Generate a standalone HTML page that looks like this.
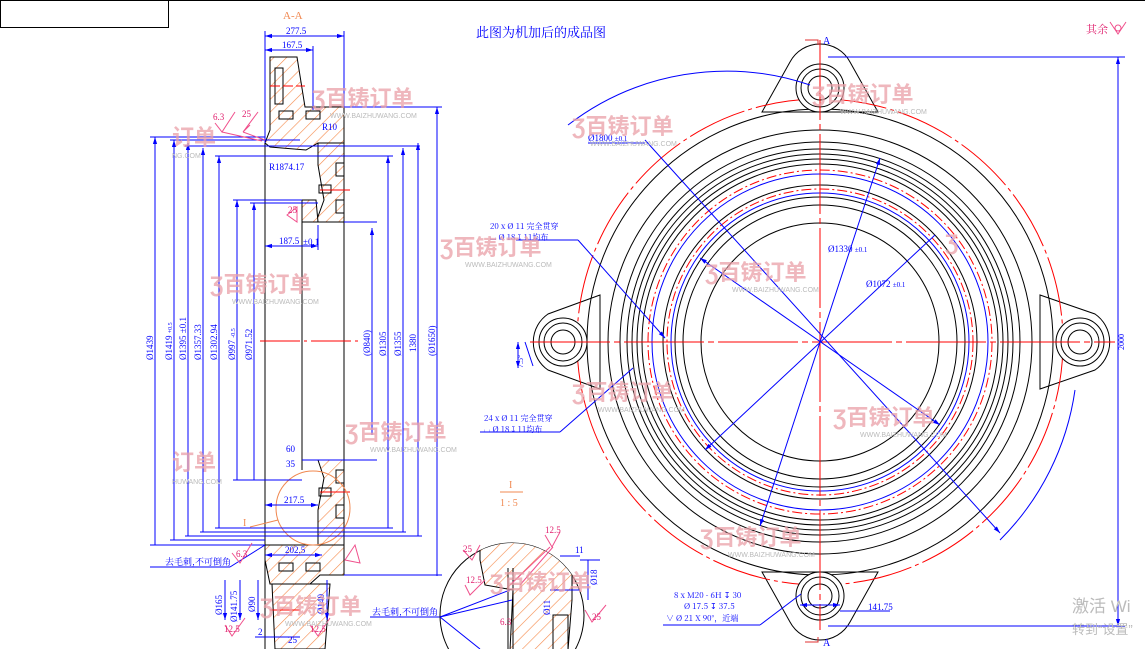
<!DOCTYPE html>
<html><head><meta charset="utf-8"><style>
html,body{margin:0;padding:0;background:#fff;width:1145px;height:649px;overflow:hidden;}
svg{display:block;font-family:"Liberation Serif","Noto Serif CJK SC",serif;}
.b{stroke:#000;fill:none;stroke-width:1}
.bl{stroke:#00f;fill:none;stroke-width:1}
.r{stroke:#f00;fill:none;stroke-width:1}
.m{stroke:#f0508c;fill:none;stroke-width:1}
.hb{stroke:#000;stroke-width:1;fill:url(#h)}
.t{fill:#00f;font-size:9px}
.tm{fill:#e0206e;font-size:9px}
.wm{fill:#eaa0a8;font-size:22px;font-weight:bold;font-family:"Liberation Sans","Noto Sans CJK SC",sans-serif;opacity:.75}
.wu{fill:#bbb;font-size:7px;font-family:"Liberation Sans",sans-serif}
</style></head><body>
<svg width="1145" height="649" viewBox="0 0 1145 649" xmlns="http://www.w3.org/2000/svg">
<defs>
<pattern id="h" width="9" height="9" patternUnits="userSpaceOnUse" patternTransform="rotate(45)">
<rect width="9" height="9" fill="#fff"/><line x1="0" y1="0" x2="0" y2="9" stroke="#f5894a" stroke-width="1.2"/></pattern>
<marker id="a" viewBox="0 0 10 10" refX="10" refY="5" markerWidth="7" markerHeight="7" orient="auto-start-reverse"><path d="M0,2L10,5L0,8z" fill="#00f"/></marker>
</defs>
<rect width="1145" height="649" fill="#fff"/>
<line x1="0" y1="0.5" x2="1145" y2="0.5" stroke="#000"/>
<rect x="0.5" y="0.5" width="168" height="27" class="b"/>

<text x="283" y="19" fill="#f08850" font-size="11">A-A</text>
<text x="476" y="37" fill="#00f" font-size="13" font-family="'Noto Serif CJK SC',serif">此图为机加后的成品图</text>
<text x="1086" y="33" fill="#e0206e" font-size="11" font-family="'Noto Serif CJK SC',serif">其余</text>
<path d="M1110,22 L1118,34 L1126,22 M1118,28 m-3,0 a3,3 0 1,0 6,0 a3,3 0 1,0 -6,0" class="m"/>

<!-- ===== Section A-A ===== -->
<g>
<path d="M270,57 L297,57 L305,107 L344,107 L344,143 L318,143 L306,150 L270,147 L265,143 L270,130 Z" class="hb"/>
<path d="M318,143 L344,143 L344,222 L316,222 L324,200 L318,165 Z" class="hb"/>
<path d="M302,200 L316,200 L318,222 L302,222 Z" class="hb"/>
<path d="M302,460 L318,460 L324,478 L318,510 L318,545 L344,545 L344,460 Z" class="hb"/>
<path d="M265,545 L344,545 L344,575 L320,575 L310,584 L270,584 L265,560 Z" class="hb"/>
<path d="M272,584 L330,584 L325,649 L275,649 Z" class="hb"/>
<line x1="265" y1="143" x2="265" y2="649" class="b"/>
<line x1="302" y1="200" x2="302" y2="470" class="b"/>
<line x1="344" y1="107" x2="344" y2="575" class="b"/>
<rect x="275" y="68" width="8" height="36" class="b" fill="#fff"/>
<rect x="279" y="111" width="14" height="8" class="b" fill="#fff"/><rect x="306" y="111" width="14" height="8" class="b" fill="#fff"/>
<rect x="336" y="163" width="8" height="13" class="b" fill="#fff"/><rect x="336" y="200" width="8" height="13" class="b" fill="#fff"/>
<rect x="319" y="185" width="12" height="8" class="b" fill="#fff"/>
<rect x="336" y="470" width="8" height="13" class="b" fill="#fff"/><rect x="336" y="505" width="8" height="13" class="b" fill="#fff"/>
<rect x="319" y="488" width="12" height="8" class="b" fill="#fff"/>
<rect x="279" y="563" width="14" height="8" class="b" fill="#fff"/><rect x="306" y="563" width="14" height="8" class="b" fill="#fff"/>
<line x1="270" y1="86" x2="305" y2="86" class="r" stroke-dasharray="10,3"/>
<line x1="320" y1="190" x2="350" y2="190" class="r"/>
<line x1="320" y1="492" x2="350" y2="492" class="r"/>
<line x1="260" y1="341" x2="360" y2="341" class="r" stroke-dasharray="40,4,3,4"/>
<line x1="270" y1="610" x2="300" y2="610" class="r"/>
<circle cx="313" cy="508" r="37" fill="none" stroke="#f08850"/>
<text x="243" y="526" fill="#f08850" font-size="10">I</text>
<line x1="250" y1="527" x2="278" y2="520" stroke="#f08850"/>
</g>
<g class="bl" marker-start="url(#a)" marker-end="url(#a)">
<line x1="265" y1="36" x2="344" y2="36"/><line x1="265" y1="50" x2="313" y2="50"/>
<line x1="265" y1="246" x2="318" y2="246"/><line x1="265" y1="505" x2="318" y2="505"/>
<line x1="265" y1="555" x2="322" y2="555"/>
</g>
<g class="bl">
<line x1="265" y1="31" x2="265" y2="143"/><line x1="344" y1="31" x2="344" y2="107"/><line x1="313" y1="46" x2="313" y2="110"/>
<line x1="318" y1="225" x2="318" y2="250"/>
</g>
<text x="286" y="34" class="t">277.5</text><text x="282" y="48" class="t">167.5</text>
<text x="279" y="244" class="t">187.5</text><text x="303" y="245" class="t" font-size="7">±0.1</text>
<text x="284" y="503" class="t">217.5</text><text x="285" y="553" class="t">202.5</text>
<text x="322" y="130" class="t">R10</text><text x="269" y="170" class="t">R1874.17</text>
<text x="286" y="452" class="t">60</text><text x="286" y="467" class="t">35</text>
<g class="bl" marker-end="url(#a)">
<line x1="155" y1="545" x2="155" y2="137"/><line x1="174" y1="540" x2="174" y2="140"/>
<line x1="188" y1="536" x2="188" y2="143"/><line x1="203" y1="532" x2="203" y2="148"/>
<line x1="219" y1="528" x2="219" y2="156"/><line x1="237" y1="480" x2="237" y2="200"/>
<line x1="254" y1="480" x2="254" y2="203"/>
<line x1="372" y1="435" x2="372" y2="228"/><line x1="388" y1="528" x2="388" y2="156"/>
<line x1="403" y1="532" x2="403" y2="148"/><line x1="418" y1="536" x2="418" y2="143"/>
<line x1="437" y1="576" x2="437" y2="107"/>
</g>
<g class="bl">
<line x1="150" y1="137" x2="265" y2="137"/><line x1="170" y1="140" x2="300" y2="140"/>
<line x1="185" y1="146" x2="420" y2="146"/><line x1="215" y1="156" x2="393" y2="156"/>
<line x1="233" y1="200" x2="302" y2="200"/><line x1="250" y1="203" x2="318" y2="203"/>
<line x1="344" y1="107" x2="442" y2="107"/><line x1="344" y1="222" x2="377" y2="222"/>
<line x1="150" y1="545" x2="265" y2="545"/><line x1="170" y1="540" x2="265" y2="540"/>
<line x1="185" y1="536" x2="422" y2="536"/><line x1="200" y1="532" x2="406" y2="532"/>
<line x1="215" y1="528" x2="393" y2="528"/><line x1="233" y1="480" x2="302" y2="480"/>
<line x1="344" y1="575" x2="442" y2="575"/><line x1="302" y1="460" x2="377" y2="460"/>
</g>
<g class="t" font-size="8">
<text transform="translate(153,360) rotate(-90)">Ø1439</text>
<text transform="translate(172,360) rotate(-90)">Ø1419 <tspan font-size="6">+0.5</tspan></text>
<text transform="translate(186,360) rotate(-90)">Ø1395 ±0.1</text>
<text transform="translate(201,360) rotate(-90)">Ø1357.33</text>
<text transform="translate(217,360) rotate(-90)">Ø1302.94</text>
<text transform="translate(235,360) rotate(-90)">Ø997 <tspan font-size="6">-0.5</tspan></text>
<text transform="translate(252,360) rotate(-90)">Ø971.52</text>
<text transform="translate(370,356) rotate(-90)">(Ø840)</text>
<text transform="translate(386,356) rotate(-90)">Ø1305</text>
<text transform="translate(401,356) rotate(-90)">Ø1355</text>
<text transform="translate(416,352) rotate(-90)">1380</text>
<text transform="translate(435,356) rotate(-90)">(Ø1650)</text>
</g>
<g class="bl" marker-end="url(#a)">
<line x1="225" y1="580" x2="225" y2="620"/><line x1="240" y1="580" x2="240" y2="620"/>
<line x1="258" y1="580" x2="258" y2="620"/><line x1="327" y1="580" x2="327" y2="620"/>
</g>
<text transform="translate(222,615) rotate(-90)" class="t">Ø165</text>
<text transform="translate(237,622) rotate(-90)" class="t">Ø141.75</text>
<text transform="translate(255,612) rotate(-90)" class="t">Ø90</text>
<text transform="translate(324,614) rotate(-90)" class="t">Ø140</text>
<text x="258" y="635" class="t">2</text><text x="288" y="643" class="t">25</text>
<line x1="255" y1="637" x2="300" y2="637" class="bl"/>
<line x1="150" y1="567" x2="230" y2="567" class="bl"/><line x1="230" y1="567" x2="265" y2="545" class="bl"/>
<text x="165" y="565" class="t" font-family="'Noto Serif CJK SC',serif">去毛刺,不可倒角</text>
<line x1="370" y1="617" x2="440" y2="617" class="bl"/>
<text x="372" y="615" class="t" font-family="'Noto Serif CJK SC',serif">去毛刺,不可倒角</text>
<g class="m">
<path d="M215,123 L222,132 L235,112 M250,125 L243,132 L258,112 M222,132 L262,141 M243,132 L265,140"/>
<path d="M287,215 L297,207 L297,222 Z"/><path d="M232,553 L240,563 L252,543"/><path d="M355,545 L360,563 L345,560 Z"/>
<path d="M225,625 L232,636 L245,618"/><path d="M310,625 L318,636 L330,618"/>
</g>
<g class="tm" font-size="8"><text x="213" y="120">6.3</text><text x="242" y="117">25</text><text x="236" y="557">6.3</text><text x="224" y="632">12.5</text><text x="310" y="632">12.5</text><text x="288" y="213">25</text></g>

<!-- detail I -->
<text x="509" y="488" fill="#f08850" font-size="10">I</text>
<line x1="500" y1="492" x2="523" y2="492" stroke="#f08850"/>
<text x="500" y="506" fill="#f08850" font-size="10">1 : 5</text>
<clipPath id="dc"><circle cx="512" cy="615" r="72"/></clipPath>
<circle cx="512" cy="615" r="72" class="b"/>
<g clip-path="url(#dc)">
<path d="M480,540 L560,540 L560,555 L560,560 L572,560 L572,600 L568,650 L510,650 L513,590 L485,585 L480,560 Z" class="hb"/>
<line x1="508" y1="568" x2="508" y2="650" class="b"/><line x1="513" y1="568" x2="513" y2="650" class="b"/>
<rect x="553" y="615" width="15" height="40" class="b" fill="#fff"/>
</g>
<g class="bl"><line x1="560" y1="556" x2="580" y2="556"/><line x1="580" y1="560" x2="600" y2="560"/><line x1="588" y1="560" x2="588" y2="600"/><line x1="550" y1="590" x2="580" y2="590"/></g>
<text x="575" y="553" class="t" font-size="8">11</text>
<text transform="translate(597,585) rotate(-90)" class="t" font-size="8">Ø18</text>
<text transform="translate(550,615) rotate(-90)" class="t" font-size="8">Ø11</text>
<g class="m"><path d="M463,550 L472,560 L480,545 M545,535 L552,547 L560,532 M585,610 L592,622 L606,605 M465,585 L470,595 L485,580 M550,547 L510,585 M553,547 L520,585"/></g>
<g class="tm" font-size="8"><text x="545" y="533">12.5</text><text x="463" y="552">25</text><text x="466" y="583">12.5</text><text x="592" y="620">25</text><text x="500" y="625">6.3</text></g>
<g class="bl"><line x1="440" y1="617" x2="510" y2="590"/><line x1="440" y1="617" x2="512" y2="600"/><line x1="440" y1="617" x2="480" y2="649"/></g>

<!-- ===== Plan view ===== -->
<g>
<path d="M762,112 L790,62 A34,34 0 0 1 850,62 L878,112 Z" class="b" fill="#fff"/>
<path d="M762,572 L790,622 A34,34 0 0 0 850,622 L878,572 Z" class="b" fill="#fff"/>
<path d="M600,295 L548,314 A34,34 0 0 0 548,370 L600,389 Z" class="b" fill="#fff"/>
<path d="M1040,295 L1095,314 A34,34 0 0 1 1095,370 L1040,389 Z" class="b" fill="#fff"/>
<circle cx="820" cy="342" r="233" class="b" fill="#fff"/>
<circle cx="820" cy="342" r="243" class="r" stroke-dasharray="60,4,4,4"/>
<circle cx="820" cy="342" r="212" class="b"/>
<circle cx="820" cy="342" r="200" class="b"/><circle cx="820" cy="342" r="193" class="b"/>
<circle cx="820" cy="342" r="188" class="b"/><circle cx="820" cy="342" r="183" class="b"/>
<circle cx="820" cy="342" r="178" class="b" stroke-width="1.8"/>
<circle cx="820" cy="342" r="172" class="r" stroke-dasharray="10,3,2,3"/>
<circle cx="820" cy="342" r="168" class="bl"/>
<circle cx="820" cy="342" r="157" class="b" stroke-width="2.2"/>
<circle cx="820" cy="342" r="153" class="r" stroke-dasharray="10,3,2,3"/>
<circle cx="820" cy="342" r="149" class="bl"/>
<circle cx="820" cy="342" r="145" class="b"/>
<circle cx="820" cy="342" r="137" class="b"/>
<circle cx="820" cy="342" r="119" class="b"/>
<g fill="#fff" stroke="#000">
<circle cx="820" cy="88" r="24"/><circle cx="820" cy="88" r="19"/><circle cx="820" cy="88" r="12"/>
<circle cx="820" cy="596" r="24"/><circle cx="820" cy="596" r="19"/><circle cx="820" cy="596" r="12"/>
<circle cx="563" cy="342" r="24"/><circle cx="563" cy="342" r="19"/><circle cx="563" cy="342" r="12"/>
<circle cx="1080" cy="342" r="24"/><circle cx="1080" cy="342" r="19"/><circle cx="1080" cy="342" r="12"/>
</g>
<line x1="530" y1="342" x2="1115" y2="342" class="r" stroke-dasharray="80,4,6,4"/>
<line x1="820" y1="40" x2="820" y2="630" class="r" stroke-dasharray="80,4,6,4"/>
</g>
<g id="holes" fill="none" stroke="#800" stroke-width="1"></g>
<g class="bl">
<line x1="700" y1="258" x2="940" y2="425" marker-start="url(#a)" marker-end="url(#a)"/>
<line x1="880" y1="158" x2="760" y2="526" marker-start="url(#a)" marker-end="url(#a)"/>
<line x1="935" y1="235" x2="705" y2="450" marker-end="url(#a)"/>
<line x1="645" y1="140" x2="1000" y2="533" marker-end="url(#a)"/>
<line x1="588" y1="143" x2="645" y2="143"/>
<line x1="516" y1="240" x2="578" y2="240"/><line x1="578" y1="240" x2="665" y2="338" marker-end="url(#a)"/>
<line x1="480" y1="432" x2="560" y2="432"/><line x1="560" y1="432" x2="633" y2="368"/>
<line x1="663" y1="625" x2="760" y2="625"/><line x1="760" y1="625" x2="801" y2="594"/>
<line x1="800" y1="605" x2="840" y2="605" marker-start="url(#a)" marker-end="url(#a)"/><line x1="840" y1="611" x2="890" y2="611"/>
<line x1="828" y1="57" x2="1125" y2="57"/><line x1="828" y1="626" x2="1125" y2="626"/>
<line x1="1118" y1="57" x2="1118" y2="626" marker-start="url(#a)" marker-end="url(#a)"/>
<line x1="525" y1="342" x2="533" y2="366"/><line x1="518" y1="342" x2="518" y2="368" marker-start="url(#a)" marker-end="url(#a)"/>
<path d="M568,125 A260,260 0 0 1 810,85" /><path d="M1075,390 A265,265 0 0 1 1000,540"/>
</g>
<g class="t">
<text x="588" y="141">Ø1800 <tspan font-size="7">±0.1</tspan></text>
<text x="828" y="252">Ø1330 <tspan font-size="7">±0.1</tspan></text>
<text x="866" y="287">Ø1072 <tspan font-size="7">±0.1</tspan></text>
<text transform="translate(1124,350) rotate(-90)" font-size="8">2000</text>
<text transform="translate(523,368) rotate(-90)" font-size="8">7.5°</text>
<text x="868" y="610">141.75</text>
<g font-family="'Noto Serif CJK SC',serif" font-size="8">
<text x="490" y="229">20 x Ø 11 完全贯穿</text><text x="490" y="240">⌴ Ø 18 ↧ 11均布</text>
<text x="484" y="421">24 x Ø 11 完全贯穿</text><text x="484" y="432">⌴ Ø 18 ↧ 11均布</text>
<text x="674" y="598">8 x M20 - 6H ↧ 30</text><text x="684" y="609">Ø 17.5 ↧ 37.5</text><text x="666" y="621">∨ Ø 21 X 90°，近端</text>
</g>
</g>
<g fill="#00f" font-size="10"><text x="823" y="44">A</text><text x="823" y="646">A</text></g>
<path d="M805,40 L818,40 L818,45 M805,642 L818,642 L818,637" stroke="#e03030" fill="none"/>

<g>
<text x="312" y="106" class="wm">Ʒ百铸订单</text><text x="330" y="118" class="wu">WWW.BAIZHUWANG.COM</text>
<text x="572" y="134" class="wm">Ʒ百铸订单</text><text x="590" y="146" class="wu">WWW.BAIZHUWANG.COM</text>
<text x="812" y="102" class="wm">Ʒ百铸订单</text><text x="840" y="114" class="wu">WWW.BAIZHUWANG.COM</text>
<text x="440" y="255" class="wm">Ʒ百铸订单</text><text x="465" y="267" class="wu">WWW.BAIZHUWANG.COM</text>
<text x="705" y="280" class="wm">Ʒ百铸订单</text><text x="732" y="292" class="wu">WWW.BAIZHUWANG.COM</text>
<text x="210" y="292" class="wm">Ʒ百铸订单</text><text x="232" y="304" class="wu">WWW.BAIZHUWANG.COM</text>
<text x="345" y="440" class="wm">Ʒ百铸订单</text><text x="370" y="452" class="wu">WWW.BAIZHUWANG.COM</text>
<text x="572" y="400" class="wm">Ʒ百铸订单</text><text x="598" y="412" class="wu">WWW.BAIZHUWANG.COM</text>
<text x="833" y="425" class="wm">Ʒ百铸订单</text><text x="860" y="437" class="wu">WWW.BAIZHUWANG.COM</text>
<text x="700" y="545" class="wm">Ʒ百铸订单</text><text x="728" y="557" class="wu">WWW.BAIZHUWANG.COM</text>
<text x="260" y="614" class="wm">Ʒ百铸订单</text><text x="285" y="626" class="wu">WWW.BAIZHUWANG.COM</text>
<text x="490" y="590" class="wm">Ʒ百铸订单</text>
<text x="172" y="145" class="wm">订单</text><text x="172" y="158" class="wu">NG.COM</text>
<text x="172" y="470" class="wm">订单</text><text x="172" y="484" class="wu">HUWANG.COM</text>
<text x="945" y="250" class="wm">Ʒ</text>
</g>
<text x="1072" y="612" fill="#bbb" font-size="17" font-family="'Liberation Sans','Noto Sans CJK SC',sans-serif">激活 Wi</text>
<text x="1072" y="634" fill="#bbb" font-size="13" font-family="'Liberation Sans','Noto Sans CJK SC',sans-serif">转到“设置”</text>
<script>
var g=document.getElementById('holes'),s='http://www.w3.org/2000/svg';
function ring(r,n,off){for(var i=0;i<n;i++){var a=(i/n)*2*Math.PI+off;var c=document.createElementNS(s,'circle');c.setAttribute('cx',820+r*Math.cos(a));c.setAttribute('cy',342+r*Math.sin(a));c.setAttribute('r',1.8);g.appendChild(c);}}
ring(172,24,0.13);ring(153,20,0);
</script>
</svg>
</body></html>
